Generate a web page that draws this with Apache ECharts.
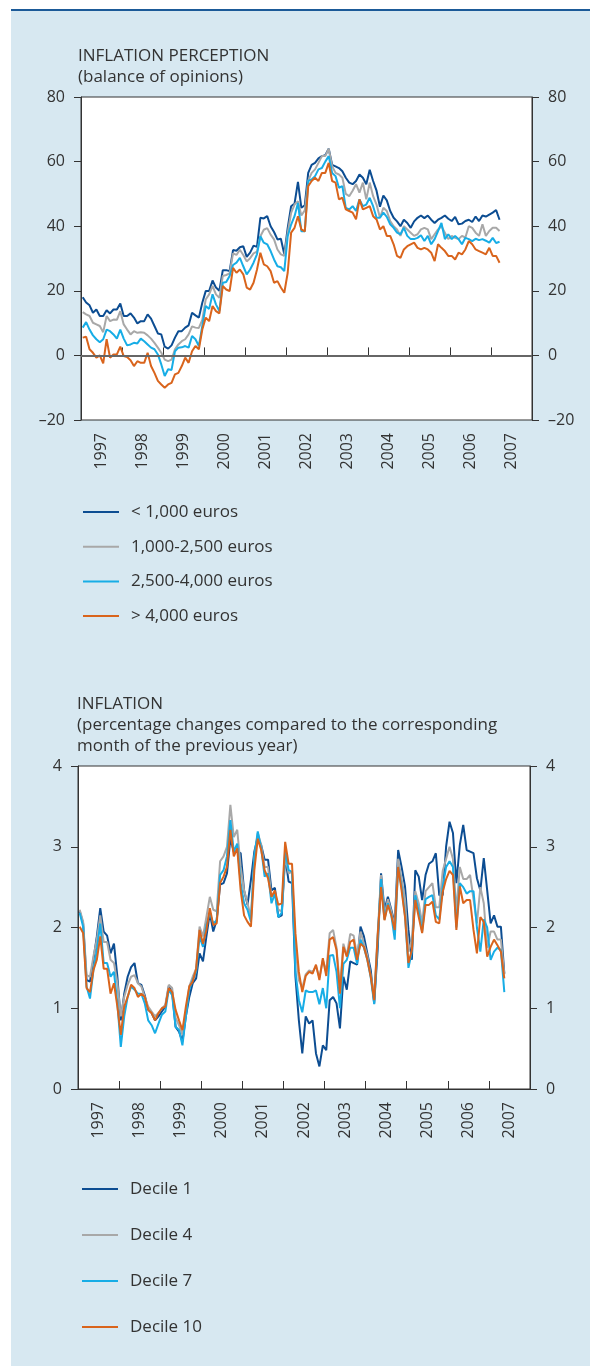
<!DOCTYPE html>
<html>
<head>
<meta charset="utf-8">
<script src="https://cdn.jsdelivr.net/npm/echarts@6/dist/echarts.min.js"></script>
<style>
  html, body { margin: 0; padding: 0; background: #ffffff; }
  #panel { position: absolute; left: 11px; top: 9px; width: 579px; height: 1357px;
           background: #d7e8f1; border-top: 2px solid #1b5a98; box-sizing: border-box; }
  #chart { position: absolute; left: 0; top: 0; width: 590px; height: 1366px; }
</style>
</head>
<body>
<div id="panel"></div>
<div id="chart"></div>
<script>
// ---------- DATA ----------
const years = ['1997','1998','1999','2000','2001','2002','2003','2004','2005','2006','2007'];
const startYear = 1997;   // monthly data from January 1997

// Inflation perception (balance of opinions), monthly
const percLt1000 = [18, 16.4, 15.5, 13.2, 14.2, 12.2, 12.2, 14, 13, 14.2,
  14.2, 16.1, 12.2, 12.2, 13, 11.7, 9.9, 10.6, 10.6, 12.7,
  11.4, 9.1, 6.8, 6.5, 2.7, 2.1, 3.1, 5.5, 7.5, 7.5,
  8.6, 9.3, 13.2, 12.4, 11.7, 16.3, 19.9, 19.9, 23.2, 21,
  20, 26.4, 26.4, 26.1, 32.6, 32.4, 33.5, 33.8, 30.5, 31.8,
  34, 33.6, 42.6, 42.4, 43.1, 40, 38.2, 35.9, 36.1, 31.3,
  39.5, 46.2, 47, 53.7, 45.7, 46.5, 56.5, 59, 59.6, 61,
  61.7, 62, 64, 59, 58.5, 58, 57, 55, 53.5, 53,
  54, 56, 55, 53, 57.5, 54, 51, 46, 49.5, 48,
  44.7, 42.6, 41.5, 40, 42, 41, 39.5, 41.5, 42.6, 43.3,
  42.5, 43.3, 42, 41, 42, 42.6, 43.3, 42.3, 41.6, 42.9,
  40.6, 40.8, 41.6, 42, 41.3, 43, 41.6, 43.3, 43, 43.6,
  44.2, 45, 42];
const perc1000_2500 = [13.4, 12.7, 12.2, 10.1, 9.6, 9.1, 7.2, 12.2, 10.6, 11.1,
  11, 13.7, 9.6, 8, 6.5, 7.5, 7, 7.2, 7, 6.2,
  5.2, 3.9, 2.4, 0.8, -1.3, -1.8, -1.3, 1.9, 3.4, 4.4,
  5, 6.5, 9, 8.6, 8.5, 11, 17.3, 18.9, 21.5, 18.9,
  17.8, 24.6, 24.9, 25.4, 31.6, 31.1, 32.7, 31.1, 29.1, 30.1,
  31.6, 32.1, 36.9, 38.9, 39.4, 37.4, 35.9, 32.8, 31.3, 30.8,
  38, 44.1, 46.7, 47.7, 43.3, 44.9, 54, 56.5, 57.6, 59.6,
  61.7, 61.7, 64, 58.6, 56.5, 56, 55, 50, 49.3, 51,
  53, 50.4, 53.5, 48.3, 53.5, 49.3, 46.7, 42.6, 45.7, 44.7,
  41.6, 40, 39, 37, 40, 39, 38, 37, 37.5, 39,
  39.5, 39, 36, 37.5, 39, 40, 38, 36, 37, 36.4,
  36, 37, 36.5, 40, 39.5, 38, 37, 40.6, 37, 38.5,
  39.5, 39.5, 38.5];
const perc2500_4000 = [8.6, 10.3, 8, 6.2, 5, 4.1, 5, 8, 7.5, 6.5,
  5.2, 8, 5.2, 3.1, 3.4, 3.9, 3.7, 5.2, 4.4, 3.4,
  2.4, 1.9, 0.3, -2.8, -6.4, -4.3, -4.5, 1.3, 2.4, 2.5,
  2.9, 2.4, 6, 5, 2.9, 9.1, 15.3, 14.4, 18.9, 15.8,
  13.7, 22.5, 22.7, 24.6, 28, 28.7, 30.2, 27.6, 25.1, 26.6,
  28.7, 31.3, 36.9, 34.9, 34.4, 32.3, 29.7, 27.6, 27.3, 26.1,
  36.9, 40.5, 43.1, 47.2, 38.4, 38.4, 54, 54.5, 55.5, 57.6,
  58, 60, 61.7, 56.5, 55.5, 51.9, 52.4, 45.7, 45.2, 46.2,
  44.7, 48.3, 46.2, 46.7, 48.8, 46.2, 42.6, 42.6, 44.2, 42.9,
  40.6, 39.5, 38, 37.5, 39.5, 37, 36, 36, 36.4, 37.2,
  35.4, 37, 34.4, 36, 38.5, 41, 36, 37.5, 36, 37,
  36, 34.4, 36.4, 36, 35.4, 36.1, 35.7, 36, 35.5, 34.9,
  36.4, 34.8, 35.2];
const percGt4000 = [5.5, 5.8, 1.9, 0.8, -0.7, 0, -2.5, 5, -0.7, 0.3,
  0.3, 2.7, -0.2, -0.5, -1.5, -3.3, -1.8, -2.3, -2.3, 0.8,
  -3.3, -5.4, -7.9, -9, -10, -9, -8.5, -5.9, -5.4, -3.3,
  -0.7, -2.3, 1.3, 2.9, 1.9, 8, 11.7, 10.6, 15.3, 13.7,
  13, 21.5, 20.4, 19.9, 27.1, 25.6, 26.6, 25.1, 21, 20.4,
  22.5, 26.5, 31.8, 28.2, 27.6, 26.1, 22.5, 23, 21, 19.4,
  25.6, 38, 39.5, 43.1, 39, 38.4, 52.4, 54, 55, 54,
  56.5, 56.5, 59.6, 54, 53.5, 48.3, 48.8, 45.2, 44.7, 44.2,
  42.1, 48.3, 45.2, 45.7, 46.2, 43.1, 42.1, 39, 40, 37,
  37, 34.4, 30.8, 30.2, 32.8, 33.8, 34.4, 34.9, 33.3, 32.8,
  33.3, 32.8, 31.8, 29.2, 34.4, 33.3, 32.3, 30.8, 30.8, 29.7,
  31.8, 31.3, 32.8, 35.4, 34.4, 32.8, 32.3, 31.8, 31.3, 33.3,
  30.8, 30.8, 28.7];

// Inflation by decile (% change y/y), monthly
const decile1 = [2.2, 2.05, 1.35, 1.33, 1.6, 1.89, 2.24, 1.95, 1.9, 1.68,
  1.8, 1.39, 0.85, 1.18, 1.39, 1.51, 1.56, 1.31, 1.29, 1.16,
  0.98, 0.94, 0.85, 0.9, 0.96, 1.02, 1.27, 1.2, 0.77, 0.71,
  0.59, 0.9, 1.14, 1.31, 1.37, 1.68, 1.58, 1.89, 2.18, 1.95,
  2.09, 2.53, 2.55, 2.67, 3.1, 2.94, 2.94, 2.92, 2.46, 2.28,
  2.59, 2.94, 3.12, 3.02, 2.84, 2.84, 2.46, 2.49, 2.13, 2.15,
  2.88, 2.57, 2.55, 1.39, 0.85, 0.44, 0.9, 0.81, 0.85, 0.44,
  0.28, 0.54, 0.48, 1.1, 1.14, 1.06, 0.75, 1.39, 1.23, 1.58,
  1.56, 1.54, 2.01, 1.89, 1.68, 1.47, 1.06, 1.72, 2.67, 2.22,
  2.38, 2.22, 2.05, 2.96, 2.75, 2.51, 1.97, 1.6, 2.71, 2.63,
  2.34, 2.65, 2.79, 2.82, 2.92, 2.4, 2.4, 3.0, 3.31, 3.17,
  2.55, 3.02, 3.27, 2.96, 2.94, 2.92, 2.61, 2.46, 2.86, 2.46,
  2.05, 2.15, 2.01, 2.01, 1.43];
const decile4 = [2.22, 2.07, 1.41, 1.39, 1.64, 1.85, 2.15, 1.82, 1.82, 1.6,
  1.56, 1.31, 0.9, 1.14, 1.29, 1.39, 1.41, 1.31, 1.27, 1.14,
  1.02, 0.96, 0.9, 0.94, 1.0, 1.04, 1.29, 1.25, 0.88, 0.79,
  0.67, 0.94, 1.27, 1.39, 1.49, 2.01, 1.89, 2.13, 2.38, 2.22,
  2.2, 2.82, 2.88, 3.0, 3.52, 3.12, 3.21, 2.75, 2.46, 2.3,
  2.13, 2.86, 3.17, 3.02, 2.75, 2.75, 2.38, 2.42, 2.22, 2.2,
  2.88, 2.67, 2.69, 1.75, 1.35, 1.25, 1.42, 1.47, 1.45, 1.52,
  1.38, 1.6, 1.45, 1.93, 1.97, 1.75, 1.25, 1.8, 1.65, 1.92,
  1.9, 1.65, 1.95, 1.8, 1.65, 1.4, 1.15, 1.9, 2.65, 2.15,
  2.35, 2.2, 2.0, 2.85, 2.6, 2.35, 1.7, 1.85, 2.45, 2.3,
  2.05, 2.45, 2.5, 2.55, 2.25, 2.25, 2.7, 2.85, 3.0, 2.85,
  2.2, 2.75, 2.6, 2.6, 2.65, 2.35, 2.05, 2.5, 2.3, 1.75,
  1.95, 1.95, 1.85, 1.85, 1.42];
const decile7 = [2.18, 2.01, 1.27, 1.12, 1.47, 1.72, 2.05, 1.56, 1.56, 1.39,
  1.45, 1.06, 0.52, 0.9, 1.14, 1.27, 1.23, 1.18, 1.18, 1.06,
  0.85, 0.79, 0.69, 0.81, 0.92, 0.96, 1.23, 1.16, 0.77, 0.73,
  0.54, 0.9, 1.23, 1.35, 1.45, 1.89, 1.76, 2.03, 2.18, 2.05,
  2.09, 2.65, 2.71, 2.88, 3.33, 2.94, 3.04, 2.55, 2.3, 2.22,
  2.07, 2.88, 3.19, 2.98, 2.63, 2.67, 2.3, 2.42, 2.13, 2.18,
  2.96, 2.71, 2.69, 1.45, 1.1, 0.95, 1.22, 1.2, 1.2, 1.22,
  1.05, 1.25, 1.0, 1.65, 1.66, 1.45, 1.0, 1.55, 1.6, 1.75,
  1.75, 1.55, 1.85, 1.75, 1.6, 1.38, 1.05, 1.85, 2.6, 2.1,
  2.3, 2.15, 1.85, 2.75, 2.5, 2.15, 1.5, 1.7, 2.4, 2.2,
  1.95, 2.35, 2.38, 2.4, 2.15, 2.1, 2.5, 2.75, 2.82, 2.75,
  2.0, 2.55, 2.5, 2.42, 2.45, 2.45, 2.0, 1.7, 2.1, 2.0,
  1.6, 1.7, 1.75, 1.72, 1.2];
const decile10 = [2.01, 1.93, 1.25, 1.2, 1.47, 1.6, 1.89, 1.49, 1.49, 1.18,
  1.31, 1.02, 0.67, 1.02, 1.14, 1.29, 1.25, 1.14, 1.18, 1.14,
  0.98, 0.94, 0.85, 0.94, 1.0, 1.02, 1.25, 1.2, 0.98, 0.85,
  0.73, 1.02, 1.27, 1.33, 1.49, 1.97, 1.8, 1.97, 2.24, 2.03,
  2.05, 2.55, 2.63, 2.75, 3.21, 2.88, 2.98, 2.46, 2.15, 2.07,
  2.01, 2.71, 3.1, 2.96, 2.71, 2.61, 2.38, 2.46, 2.28, 2.3,
  3.06, 2.79, 2.79, 1.93, 1.45, 1.2, 1.4, 1.45, 1.43, 1.54,
  1.35, 1.62, 1.4, 1.85, 1.88, 1.72, 1.18, 1.76, 1.64, 1.82,
  1.85, 1.6, 1.8, 1.76, 1.6, 1.39, 1.1, 1.89, 2.5, 2.09,
  2.28, 2.15, 1.97, 2.75, 2.46, 2.13, 1.56, 1.72, 2.34, 2.13,
  1.93, 2.28, 2.28, 2.32, 2.07, 2.05, 2.44, 2.6, 2.7, 2.65,
  1.97, 2.51, 2.3, 2.34, 2.34, 1.97, 1.68, 2.13, 2.07, 1.64,
  1.76, 1.85, 1.78, 1.7, 1.37];

const names1 = ['< 1,000 euros', '1,000-2,500 euros', '2,500-4,000 euros', '> 4,000 euros'];
const names2 = ['Decile 1', 'Decile 4', 'Decile 7', 'Decile 10'];
const yTicks1 = { min: -20, max: 80, interval: 20 };
const yTicks2 = { min: 0, max: 4, interval: 1 };

// ---------- STYLE ----------
const COLORS = ['#0c4d92', '#a8a8a8', '#17ade6', '#d9641c'];
const FONT = '"Open Sans", "Noto Sans", "DejaVu Sans", sans-serif';
const TXT = '#333333';
const AX = '#333333';

function monthly(arr) {
  return arr.map((v, i) => [startYear + (i + 0.5) / 12, v]);
}
const dash = v => (v < 0 ? '\u2013' + Math.abs(v) : String(v));

function yAxes(grid, t) {
  const base = {
    gridIndex: grid, type: 'value', min: t.min, max: t.max, interval: t.interval,
    axisLine: { show: true, lineStyle: { color: AX, width: 1 } },
    axisTick: { show: true, inside: false, length: 7, lineStyle: { color: AX, width: 1 } },
    axisLabel: { margin: 16, fontSize: 16, color: TXT, fontFamily: FONT, formatter: dash },
    splitLine: { show: false }
  };
  return [Object.assign({}, base, { position: 'left' }),
          Object.assign({}, base, { position: 'right' })];
}
function xAxes(grid) {
  return [
    { gridIndex: grid, type: 'category', data: years, boundaryGap: true, position: 'bottom',
      axisLine: { show: true, lineStyle: { color: AX, width: 1 } },
      axisTick: { show: true, inside: true, length: 8, interval: 0, lineStyle: { color: AX, width: 1 } },
      axisLabel: { rotate: 90, margin: 13, interval: 0, fontSize: 16, color: TXT, fontFamily: FONT },
      splitLine: { show: false } },
    { gridIndex: grid, type: 'value', min: 1997, max: 2008, show: false, splitLine: { show: false } }
  ];
}
function lineSeries(name, arr, xi, yi, ci, extra) {
  return Object.assign({
    name: name, type: 'line', xAxisIndex: xi, yAxisIndex: yi,
    data: monthly(arr), symbol: 'none', showSymbol: false, smooth: false,
    lineStyle: { width: 2, color: COLORS[ci] }, itemStyle: { color: COLORS[ci] },
    emphasis: { disabled: true }, silent: true
  }, extra || {});
}
const titleStyle = { fontSize: 17, fontWeight: 'normal', color: TXT, fontFamily: FONT, lineHeight: 21 };
const legendText = { fontSize: 17, color: TXT, fontFamily: FONT, lineHeight: 20, padding: [0, 0, 0, 7] };

const chart = echarts.init(document.getElementById('chart'), null, { renderer: 'canvas' });
chart.setOption({
  animation: false,
  backgroundColor: 'transparent',
  textStyle: { fontFamily: FONT },
  title: [
    { text: 'INFLATION PERCEPTION\n(balance of opinions)', left: 78, top: 46, padding: 0, textStyle: titleStyle },
    { text: 'INFLATION\n(percentage changes compared to the corresponding\nmonth of the previous year)', left: 77, top: 694, padding: 0, textStyle: titleStyle }
  ],
  grid: [
    { left: 81, top: 97, width: 451, height: 323, show: true, backgroundColor: '#ffffff', borderColor: AX, borderWidth: 1 },
    { left: 78, top: 766, width: 452, height: 323, show: true, backgroundColor: '#ffffff', borderColor: AX, borderWidth: 1 }
  ],
  xAxis: xAxes(0).concat(xAxes(1)),
  yAxis: yAxes(0, yTicks1).concat(yAxes(1, yTicks2)),
  legend: [
    { data: names1, orient: 'vertical', left: 83, top: 502, padding: 0, itemGap: 14.7,
      itemWidth: 36, itemHeight: 2, icon: 'rect', selectedMode: false, textStyle: legendText },
    { data: names2, orient: 'vertical', left: 82, top: 1179, padding: 0, itemGap: 26,
      itemWidth: 36, itemHeight: 2, icon: 'rect', selectedMode: false, textStyle: legendText }
  ],
  series: [
    lineSeries(names1[0], percLt1000, 1, 0, 0, {
      markLine: { silent: true, symbol: 'none', label: { show: false },
        lineStyle: { color: '#666666', width: 2, type: 'solid' }, data: [{ yAxis: 0 }] }
    }),
    lineSeries(names1[1], perc1000_2500, 1, 0, 1),
    lineSeries(names1[2], perc2500_4000, 1, 0, 2),
    lineSeries(names1[3], percGt4000, 1, 0, 3),
    lineSeries(names2[0], decile1, 3, 2, 0),
    lineSeries(names2[1], decile4, 3, 2, 1),
    lineSeries(names2[2], decile7, 3, 2, 2),
    lineSeries(names2[3], decile10, 3, 2, 3)
  ]
});
</script>
</body>
</html>
